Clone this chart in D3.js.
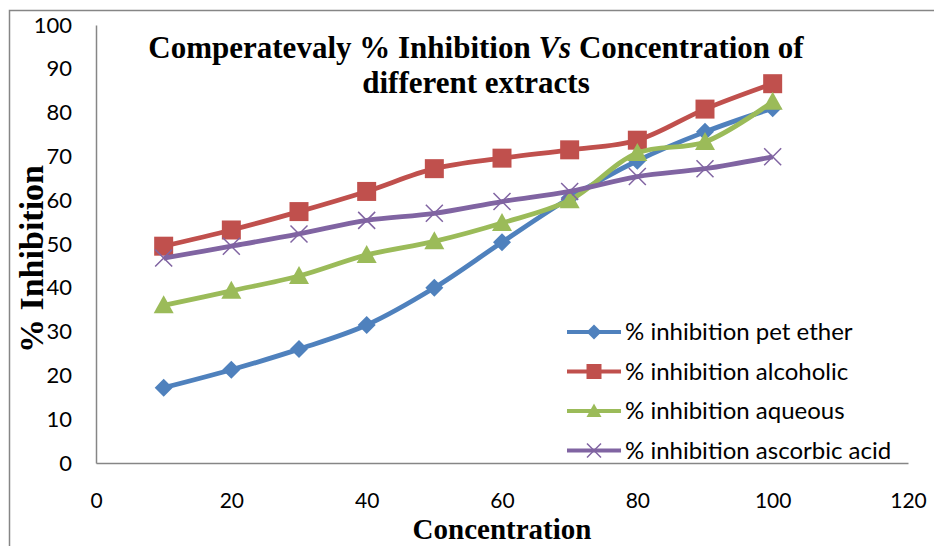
<!DOCTYPE html>
<html><head><meta charset="utf-8">
<script src="https://cdn.jsdelivr.net/npm/d3@7"></script>
<style>
body{margin:0;background:#fff;}
svg{display:block;}
</style></head>
<body>
<svg id="chart" width="934" height="546"></svg>
<script>
const concentrations = [10, 20, 30, 40, 50, 60, 70, 80, 90, 100];
const petEther   = [17.2, 21.3, 26.0, 31.5, 40.0, 50.4, 60.5, 69.0, 75.6, 81.0];
const alcoholic  = [49.5, 53.2, 57.4, 62.0, 67.2, 69.6, 71.5, 73.7, 80.8, 86.6];
const aqueous    = [36.0, 39.3, 42.7, 47.5, 50.6, 54.8, 60.0, 70.8, 73.3, 82.5];
const ascorbic   = [46.8, 49.5, 52.3, 55.4, 57.0, 59.7, 62.0, 65.4, 67.2, 69.9];
const seriesNames = ["% inhibition pet ether", "% inhibition alcoholic", "% inhibition aqueous", "% inhibition ascorbic acid"];
const seriesColors = ["#4F81BD", "#C0504D", "#9BBB59", "#8064A2"];
const seriesMarkers = ["diamond", "square", "triangle", "x"];
const xTicks = [0, 20, 40, 60, 80, 100, 120];
const yTicks = [0, 10, 20, 30, 40, 50, 60, 70, 80, 90, 100];

const series = [petEther, alcoholic, aqueous, ascorbic].map((vals, i) => ({
  name: seriesNames[i], color: seriesColors[i], marker: seriesMarkers[i],
  points: vals.map((v, j) => ({x: concentrations[j], y: v}))
}));

const svg = d3.select("#chart");
const L = 96, R = 908, T = 25, B = 463;
const x = d3.scaleLinear().domain([0, 120]).range([L, R]);
const y = d3.scaleLinear().domain([0, 100]).range([B, T]);
const axisColor = "#868686";
const tickFont = "Lato, 'Liberation Sans', sans-serif";

// outer frame (left & top edges visible)
svg.append("path").attr("d", "M9.5,546 L9.5,10.5 L934,10.5")
  .attr("fill", "none").attr("stroke", axisColor).attr("stroke-width", 1.5);

// axes
const yAxis = d3.axisLeft(y).tickValues(yTicks).tickSize(0).tickPadding(24);
const gy = svg.append("g").attr("transform", `translate(${L},0)`).call(yAxis);
gy.select(".domain").attr("stroke", axisColor).attr("stroke-width", 1.5);
gy.selectAll("text").attr("font-family", tickFont).attr("font-size", 22).attr("fill", "#000");

const xAxis = d3.axisBottom(x).tickValues(xTicks).tickSize(0).tickPadding(30);
const gx = svg.append("g").attr("transform", `translate(0,${B})`).call(xAxis);
gx.select(".domain").attr("stroke", axisColor).attr("stroke-width", 1.5);
gx.selectAll("text").attr("font-family", tickFont).attr("font-size", 21).attr("fill", "#000");

// lines
const line = d3.line().x(d => x(d.x)).y(d => y(d.y)).curve(d3.curveCatmullRom.alpha(0.5));
function markerPath(type, s) {
  const h = s / 2;
  if (type === "diamond") return `M0,${-h}L${h},0L0,${h}L${-h},0Z`;
  if (type === "square") return `M${-h},${-h}H${h}V${h}H${-h}Z`;
  if (type === "triangle") return `M0,${-h}L${h},${h*0.8}L${-h},${h*0.8}Z`;
  return `M${-h},${-h}L${h},${h}M${h},${-h}L${-h},${h}`;
}
const sizes = {diamond: 18, square: 19, triangle: 20, x: 17};

series.forEach(s => {
  const g = svg.append("g");
  g.append("path").attr("d", line(s.points)).attr("fill", "none")
    .attr("stroke", s.color).attr("stroke-width", 4.8).attr("stroke-linejoin", "round");
  g.selectAll("path.m").data(s.points).join("path").attr("class", "m")
    .attr("transform", d => `translate(${x(d.x)},${y(d.y)})`)
    .attr("d", markerPath(s.marker, sizes[s.marker]))
    .attr("fill", s.marker === "x" ? "none" : s.color)
    .attr("stroke", s.color).attr("stroke-width", s.marker === "x" ? 1.5 : 0);
});

// legend
const legend = svg.append("g");
series.forEach((s, i) => {
  const ly = 332 + i * 39.5;
  legend.append("line").attr("x1", 567).attr("x2", 621).attr("y1", ly).attr("y2", ly)
    .attr("stroke", s.color).attr("stroke-width", 4);
  legend.append("path").attr("transform", `translate(594,${ly})`)
    .attr("d", markerPath(s.marker, s.marker === "x" ? 14 : 15))
    .attr("fill", s.marker === "x" ? "none" : s.color)
    .attr("stroke", s.color).attr("stroke-width", s.marker === "x" ? 1.5 : 0);
  legend.append("text").attr("x", 625).attr("y", ly).attr("dy", "0.35em")
    .attr("font-family", tickFont).attr("font-size", 24).attr("fill", "#000").text(s.name);
});

// title
const title = svg.append("text").attr("text-anchor", "middle")
  .attr("font-family", "'Liberation Serif', 'Times New Roman', serif")
  .attr("font-weight", "bold").attr("font-size", 31).attr("fill", "#000");
const t1 = title.append("tspan").attr("x", 476).attr("y", 58);
t1.append("tspan").text("Comperatevaly % Inhibition ");
t1.append("tspan").attr("font-style", "italic").text("Vs");
t1.append("tspan").text(" Concentration of");
title.append("tspan").attr("x", 476).attr("y", 93).text("different extracts");

// axis titles
svg.append("text").attr("x", 502).attr("y", 539).attr("text-anchor", "middle")
  .attr("font-family", "'Liberation Serif', 'Times New Roman', serif")
  .attr("font-weight", "bold").attr("font-size", 29).attr("fill", "#000").text("Concentration");
svg.append("text").attr("transform", "translate(43,259) rotate(-90)").attr("text-anchor", "middle")
  .attr("font-family", "'Liberation Serif', 'Times New Roman', serif")
  .attr("font-weight", "bold").attr("font-size", 34).attr("fill", "#000").text("% Inhibition");
</script>
</body></html>
